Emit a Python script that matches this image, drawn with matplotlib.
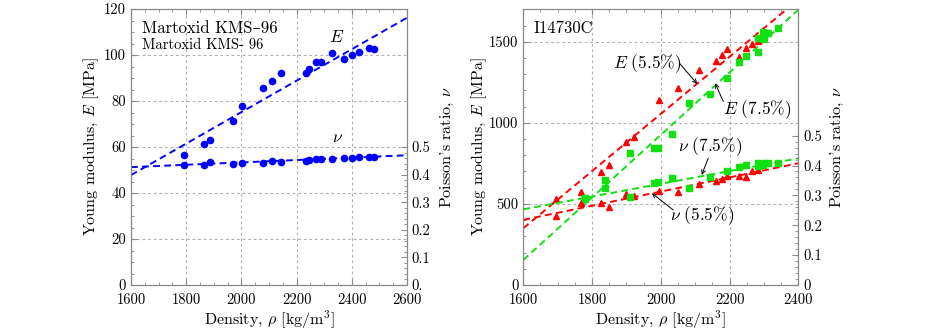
import matplotlib
matplotlib.use("Agg")
import matplotlib.pyplot as plt
from matplotlib.ticker import MultipleLocator, FixedLocator

plt.rcParams['font.family'] = ['cmr10', 'DejaVu Serif']
plt.rcParams['mathtext.fontset'] = 'cm'
plt.rcParams['axes.unicode_minus'] = False

# ---- Martoxid KMS-96 ----
rho_kms = [1793, 1864, 1887, 1968, 2001, 2079, 2112, 2143, 2234, 2246,
           2270, 2288, 2328, 2373, 2400, 2427, 2462, 2479]
E_kms = [56.5, 61.2, 63.0, 71.3, 77.8, 85.6, 88.6, 92.2, 92.2, 93.8,
         97.1, 97.0, 101.0, 98.1, 100.1, 101.4, 102.9, 102.8]
nu_kms = [0.433, 0.436, 0.444, 0.439, 0.442, 0.441, 0.448, 0.446, 0.451, 0.453,
          0.455, 0.456, 0.455, 0.459, 0.461, 0.463, 0.464, 0.464]
fit_rho_kms = [1600, 2600]
E_fit_kms = [47.8, 116.2]
nu_fit_kms = [0.427, 0.470]

# ---- I14730C ----
rho_55 = [1695, 1767, 1825, 1849, 1898, 1922, 1994, 2051, 2111, 2161,
          2177, 2193, 2228, 2247, 2264, 2282]
E_55 = [531, 572, 699, 742, 884, 911, 1141, 1213, 1327, 1382,
        1419, 1454, 1403, 1460, 1485, 1507]
nu_55 = [0.232, 0.274, 0.276, 0.260, 0.303, 0.298, 0.316, 0.310, 0.337, 0.349,
         0.355, 0.366, 0.366, 0.362, 0.381, 0.385]

rho_75 = [1779, 1837, 1911, 1979, 1993, 2034, 2081, 2143, 2193, 2228,
          2247, 2282, 2284, 2298, 2300, 2313, 2340]
E_75 = [531, 648, 811, 847, 847, 932, 1125, 1177, 1279, 1376,
        1413, 1439, 1522, 1563, 1516, 1557, 1584]
nu_75 = [0.290, 0.326, 0.296, 0.343, 0.346, 0.357, 0.324, 0.360, 0.383, 0.394,
         0.402, 0.400, 0.410, 0.402, 0.408, 0.408, 0.408]

fit_rho_r = [1600, 2400]
E_fit_55 = [350, 1760]
E_fit_75 = [154, 1697]
nu_fit_55 = [0.218, 0.4075]
nu_fit_75 = [0.2535, 0.424]

nu_ticks = [0, 0.1, 0.2, 0.3, 0.4, 0.5]

frame = '#888888'
grid_c = '#b0b0b0'
dash = (0, (3.5, 2.2))
green = '#11e011'


def style_axes(ax, ax2):
    for a in (ax, ax2):
        for s in a.spines.values():
            s.set_color(frame)
    ax.tick_params(which='both', direction='in', colors=frame, labelcolor='black',
                   labelsize=10.5, top=True, right=False)
    ax.tick_params(axis='x', pad=6)
    ax.tick_params(which='major', length=4)
    ax.tick_params(which='minor', length=2)
    ax2.tick_params(which='both', direction='in', colors=frame, labelcolor='black',
                    labelsize=10.5)
    ax2.tick_params(which='major', length=4)
    ax2.tick_params(which='minor', length=2)
    ax.grid(True, which='major', color=grid_c, linestyle=(0, (2.5, 2.5)), linewidth=0.8)
    ax.set_axisbelow(True)


fig = plt.figure(figsize=(9.26, 3.34), dpi=100)

# left panel
ax = fig.add_axes([131 / 926, 49 / 334, 276 / 926, 276 / 334])
ax2 = ax.twinx()
ax.plot(fit_rho_kms, E_fit_kms, color='#0000ff', linestyle=dash, lw=1.4)
ax.plot(rho_kms, E_kms, 'o', color='#0000ff', ms=4.5)
ax2.plot(fit_rho_kms, nu_fit_kms, color='#0000ff', linestyle=dash, lw=1.4)
ax2.plot(rho_kms, nu_kms, 'o', color='#0000ff', ms=4.5)
ax.set_xlim(1600, 2600)
ax.set_ylim(0, 120)
ax2.set_ylim(0, 1.0)
ax.xaxis.set_major_locator(MultipleLocator(200))
ax.xaxis.set_minor_locator(MultipleLocator(50))
ax.yaxis.set_major_locator(MultipleLocator(20))
ax.yaxis.set_minor_locator(MultipleLocator(5))
ax2.yaxis.set_major_locator(FixedLocator(nu_ticks))
ax2.yaxis.set_minor_locator(FixedLocator([i * 0.02 for i in range(26)]))
ax2.set_yticklabels(['0.'] + [str(t) for t in nu_ticks[1:]])
style_axes(ax, ax2)
ax.set_xlabel(r"Density, $\rho$ [kg/m$^3$]", fontsize=11.5, labelpad=1)
ax.set_ylabel(r"Young modulus, $E$ [MPa]", fontsize=11.5, labelpad=2)
ax2.set_ylabel(r"Poisson's ratio, $\nu$", fontsize=11.5, labelpad=6)
ax.text(0.039, 0.93, "Martoxid KMS–96", transform=ax.transAxes, fontsize=12,
        va='center', ha='left')
ax.text(0.039, 0.868, "Martoxid KMS- 96", transform=ax.transAxes, fontsize=10.5,
        va='center', ha='left')
ax.text(2346, 108, r"$E$", fontsize=12.5, ha='center', va='center')
ax.text(2350, 64, r"$\nu$", fontsize=12.5, ha='center', va='center')

# right panel
bx = fig.add_axes([523.3 / 926, 49 / 334, 275 / 926, 276 / 334])
bx2 = bx.twinx()
bx.plot(fit_rho_r, E_fit_55, color='#ff0000', linestyle=dash, lw=1.4)
bx.plot(fit_rho_r, E_fit_75, color=green, linestyle=dash, lw=1.4)
bx.plot(rho_55, E_55, '^', color='#ff0000', ms=5)
bx.plot(rho_75, E_75, 's', color=green, ms=5)
bx2.plot(fit_rho_r, nu_fit_55, color='#ff0000', linestyle=dash, lw=1.4)
bx2.plot(fit_rho_r, nu_fit_75, color=green, linestyle=dash, lw=1.4)
bx2.plot(rho_55, nu_55, '^', color='#ff0000', ms=5)
bx2.plot(rho_75, nu_75, 's', color=green, ms=5)
bx.set_xlim(1600, 2400)
bx.set_ylim(0, 1702)
bx2.set_ylim(0, 0.924)
bx.xaxis.set_major_locator(MultipleLocator(200))
bx.xaxis.set_minor_locator(MultipleLocator(50))
bx.yaxis.set_major_locator(MultipleLocator(500))
bx.yaxis.set_minor_locator(MultipleLocator(100))
bx2.yaxis.set_major_locator(FixedLocator(nu_ticks))
bx2.yaxis.set_minor_locator(FixedLocator([i * 0.02 for i in range(26)]))
bx2.set_yticklabels([str(t) if t else '0' for t in nu_ticks])
style_axes(bx, bx2)
bx.set_xlabel(r"Density, $\rho$ [kg/m$^3$]", fontsize=11.5, labelpad=1)
bx.set_ylabel(r"Young modulus, $E$ [MPa]", fontsize=11.5, labelpad=0)
bx2.set_ylabel(r"Poisson's ratio, $\nu$", fontsize=11.5, labelpad=5)
bx.text(0.036, 0.93, "I14730C", transform=bx.transAxes, fontsize=12,
        va='center', ha='left')

arrow = dict(arrowstyle='->', color='black', lw=0.7, shrinkA=0, shrinkB=0,
             mutation_scale=7)
bx.text(1959, 1362, r"$E\ (5.5\%)$", fontsize=12.5, ha='center', va='center')
bx.annotate("", xy=(2106, 1240), xytext=(2054, 1368), arrowprops=arrow)
bx.text(2279, 1080, r"$E\ (7.5\%)$", fontsize=12.5, ha='center', va='center')
bx.annotate("", xy=(2158, 1244), xytext=(2182, 1131), arrowprops=arrow)
bx.text(2143, 853, r"$\nu\ (7.5\%)$", fontsize=12.5, ha='center', va='center')
bx.annotate("", xy=(2119, 679), xytext=(2138, 782), arrowprops=arrow)
bx.text(2119, 428, r"$\nu\ (5.5\%)$", fontsize=12.5, ha='center', va='center')
bx.annotate("", xy=(1974, 566), xytext=(2036, 463), arrowprops=arrow)

fig.savefig("out.png", dpi=100)
